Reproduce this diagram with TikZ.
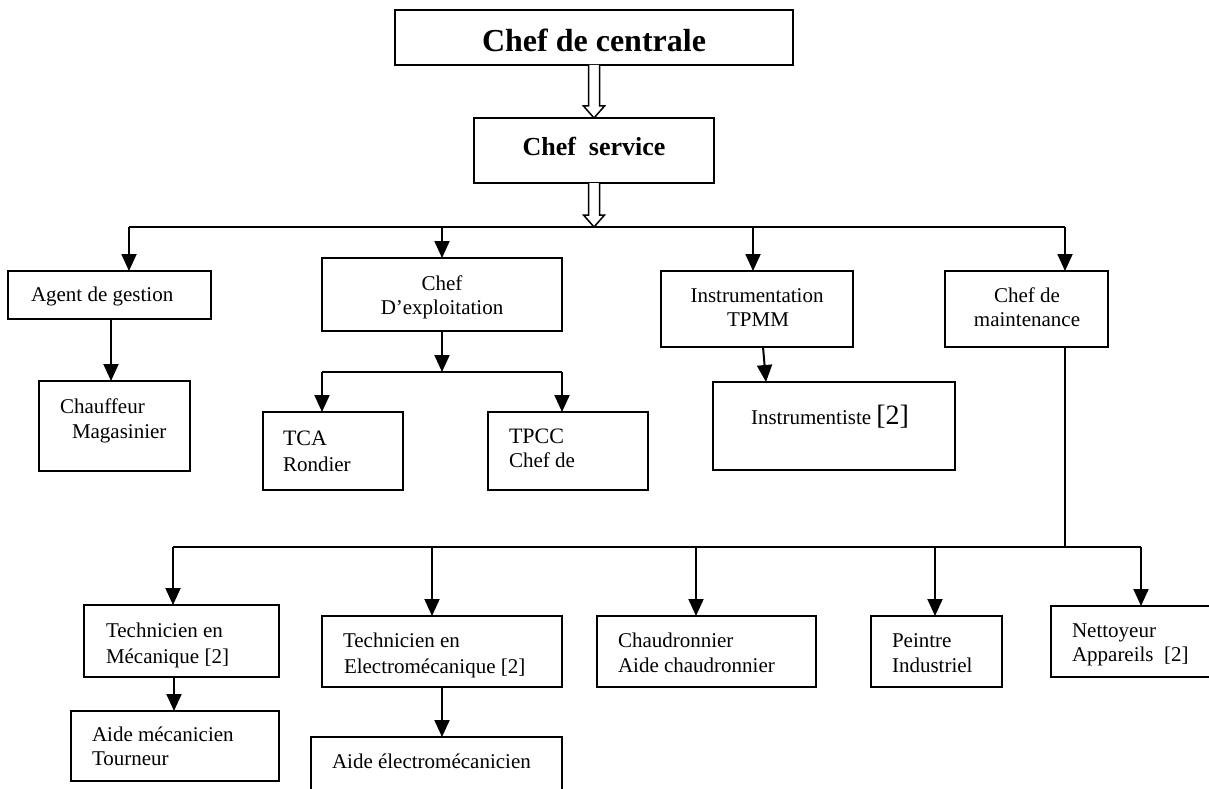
\documentclass[tikz,border=0pt]{standalone}
\usepackage{fontspec}
\setmainfont{Liberation Serif}
\usetikzlibrary{arrows.meta,calc}
\newcommand\obox[5]{\node[orgbox, minimum width={#4-#2}, minimum height={#5-#3}] (#1) at ({(#2+#4)/2},{(#3+#5)/2}) {};}
\newcommand\orgline[6]{\node[txt, anchor=#2, font=\fontsize{#5}{#5}\selectfont] (#1) at (#3,#4) {#6};}
\begin{document}
\begin{tikzpicture}[x=1pt,y=-1pt,
  orgbox/.style={draw=black, line width=1.8pt, inner sep=0pt, outer sep=0pt, rectangle},
  conn/.style={line width=2pt, -{Triangle[length=17pt,width=15pt]}},
  busline/.style={line width=2pt},
  thinbus/.style={line width=1.4pt},
  thinline/.style={line width=1.3pt},
  hollow/.style={draw=black, line width=1.5pt, fill=white, line join=miter},
  txt/.style={inner sep=0pt, outer sep=0pt}]
\useasboundingbox (0,0) rectangle (1209,789);
\fill[white] (0,0) rectangle (1209,789);
\clip (0,0) rectangle (1209,789);
% boxes
\obox{cc}{395}{10}{793}{65}
\obox{cs}{474}{118}{714}{183}
\obox{ag}{8}{271}{211}{319}
\obox{ce}{322}{258}{562}{331}
\obox{it}{661}{271}{853}{347}
\obox{mt}{945}{271}{1108}{347}
\obox{cm}{39}{381}{190}{471}
\obox{tca}{263}{412}{403}{490}
\obox{tpcc}{488}{412}{648}{490}
\obox{ist}{713}{382}{955}{470}
\obox{tm}{84}{605}{279}{677}
\obox{am}{71}{711}{279}{781}
\obox{te}{322}{616}{562}{687}
\obox{ae}{311}{737}{562}{805}
\obox{ch}{597}{616}{816}{687}
\obox{pe}{871}{616}{1002}{687}
\obox{ne}{1051}{606}{1220}{677}
% texts
\node[txt, anchor=base, font=\fontsize{32}{32}\selectfont\bfseries] (tcc) at (594,52) {Chef de centrale};
\node[txt, anchor=base, font=\fontsize{26}{26}\selectfont\bfseries] (tcs) at (594,155) {Chef\ \ service};
\orgline{tag}{base west}{31}{301}{21}{Agent de gestion}
\orgline{tcm1}{base west}{60}{413}{21}{Chauffeur}
\orgline{tcm2}{base west}{72}{438}{21}{Magasinier}
\orgline{tce1}{base}{442}{290}{21}{Chef}
\orgline{tce2}{base}{442}{314}{21}{D’exploitation}
\orgline{ttca1}{base west}{283}{445}{22}{TCA}
\orgline{ttca2}{base west}{283}{471}{21}{Rondier}
\orgline{ttp1}{base west}{509}{443}{22}{TPCC}
\orgline{ttp2}{base west}{509}{467}{21}{Chef de}
\orgline{tit1}{base}{757}{302}{21}{Instrumentation}
\orgline{tit2}{base}{758}{326}{21}{TPMM}
\orgline{tmt1}{base}{1027}{302}{21}{Chef de}
\orgline{tmt2}{base}{1027}{326}{21}{maintenance}
\node[txt, anchor=base west] (tist) at (751,424) {\fontsize{21}{21}\selectfont Instrumentiste \fontsize{28}{28}\selectfont[2]};
\orgline{ttm1}{base west}{106}{637}{21}{Technicien en}
\orgline{ttm2}{base west}{106}{663}{21}{Mécanique [2]}
\orgline{tam1}{base west}{92}{741}{21}{Aide mécanicien}
\orgline{tam2}{base west}{92}{765}{21}{Tourneur}
\orgline{tte1}{base west}{343}{647}{21}{Technicien en}
\orgline{tte2}{base west}{344}{673}{21}{Electromécanique [2]}
\orgline{tae}{base west}{332}{768}{21}{Aide électromécanicien}
\orgline{tch1}{base west}{618}{647}{21}{Chaudronnier}
\orgline{tch2}{base west}{618}{672}{21}{Aide chaudronnier}
\orgline{tpe1}{base west}{892}{647}{21}{Peintre}
\orgline{tpe2}{base west}{892}{672}{21}{Industriel}
\orgline{tne1}{base west}{1072}{637}{21}{Nettoyeur}
\orgline{tne2}{base west}{1072}{661}{21}{Appareils\ \ [2]}
% bus 1
\coordinate (b1L) at (129,227);
\coordinate (b1c) at (442,227);
\coordinate (b1m) at (594,227);
\coordinate (b1i) at (753,227);
\coordinate (b1R) at (1065,227);
\draw[thinbus] (b1L) -- (b1R);
\draw[conn] (b1L) -- (b1L |- ag.north);
\draw[conn] (b1c) -- (b1c |- ce.north);
\draw[conn] (b1i) -- (b1i |- it.north);
\draw[conn] (b1R) -- (b1R |- mt.north);
% hollow arrows
\draw[hollow] ($(cc.south)+(-5.5,0)$) -- ($(cs.north)+(-5.5,-12)$) -- ($(cs.north)+(-10.5,-12)$) -- (cs.north) -- ($(cs.north)+(10.5,-12)$) -- ($(cs.north)+(5.5,-12)$) -- ($(cc.south)+(5.5,0)$);
\draw[hollow] ($(cs.south)+(-5.5,0)$) -- ($(b1m)+(-5.5,-12)$) -- ($(b1m)+(-10.5,-12)$) -- (b1m) -- ($(b1m)+(10.5,-12)$) -- ($(b1m)+(5.5,-12)$) -- ($(cs.south)+(5.5,0)$);
% agent -> chauffeur
\coordinate (acx) at (111,0);
\draw[conn] (acx |- ag.south) -- (acx |- cm.north);
% chef d'exploitation
\coordinate (sbL) at (322,372);
\coordinate (sbR) at (562,372);
\draw[thinbus] (sbL) -- (sbR);
\draw[conn] (ce.south) -- (ce.south |- sbL);
\draw[conn] (sbL) -- (sbL |- tca.north);
\draw[conn] (sbR) -- (sbR |- tpcc.north);
% instrumentation
\draw[conn] ($(it.south)+(6,0)$) -- ($(ist.north)+(-68,0)$);
% maintenance
\coordinate (b2L) at (173,547);
\coordinate (b2m) at (1065,547);
\coordinate (b2R) at (1141,547);
\coordinate (b2e) at (432,547);
\coordinate (b2c) at (696,547);
\coordinate (b2p) at (935,547);
\draw[thinline] (b2m |- mt.south) -- (b2m);
\draw[busline] (b2L) -- (b2R);
\draw[conn] (b2L) -- (b2L |- tm.north);
\draw[conn] (b2e) -- (b2e |- te.north);
\draw[conn] (b2c) -- (b2c |- ch.north);
\draw[conn] (b2p) -- (b2p |- pe.north);
\draw[conn] (b2R) -- (b2R |- ne.north);
\coordinate (tmx) at (174,0);
\draw[conn] (tmx |- tm.south) -- (tmx |- am.north);
\draw[conn] (te.south) -- (te.south |- ae.north);
\end{tikzpicture}
\end{document}
